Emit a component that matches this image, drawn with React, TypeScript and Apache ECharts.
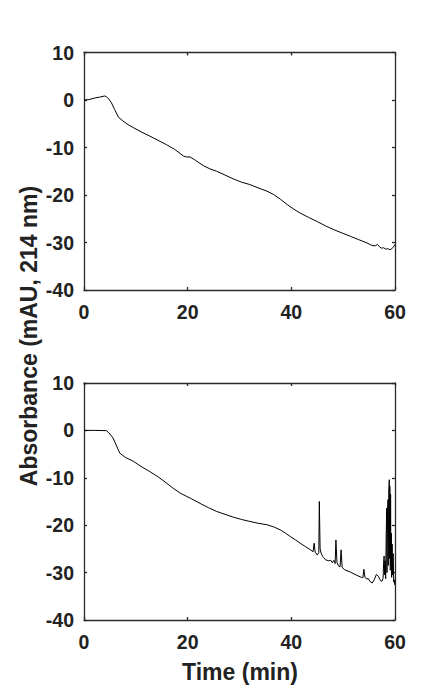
import React, { useEffect, useRef } from "react";
import * as echarts from "echarts";

const xTicks = [0, 20, 40, 60];
const yTicks = [-40, -30, -20, -10, 0, 10];

const topTrace: [number, number][] = [
  [0, 0], [1, 0.1], [2, 0.4], [3, 0.6], [4, 0.85], [4.3, 0.7], [4.8, 0.2], [5.3, -0.6],
  [5.9, -2], [6.7, -3.7], [7.5, -4.4], [8.5, -5.2], [9.5, -5.8], [11, -6.7], [12.7, -7.6],
  [14.3, -8.5], [15.9, -9.4], [17.5, -10.4], [19.2, -11.8], [19.8, -12], [20.5, -12],
  [21.5, -12.7], [23, -13.8], [24.3, -14.5], [25.6, -15], [27.2, -15.8], [28.8, -16.6],
  [30.4, -17.3], [32, -17.8], [33.6, -18.5], [35.3, -19.2], [36.6, -19.9], [37.9, -20.9],
  [39.2, -22], [40.5, -23], [41.7, -23.8], [43.3, -24.7], [45, -25.6], [46.6, -26.5],
  [48.2, -27.3], [49.8, -28], [51.4, -28.7], [53, -29.4], [54.6, -30.1], [55.5, -30.6],
  [56.2, -30.7], [56.6, -30.4], [57.0, -30.9], [57.4, -31.2], [57.8, -31.1], [58.2, -31.4],
  [58.6, -31.3], [59.0, -31.5], [59.3, -31.4], [59.6, -31.0], [59.8, -30.8], [60, -30.4],
];

const bottomTrace: [number, number][] = [
  [0, 0], [2, 0], [4.3, -0.05], [4.8, -0.5], [5.6, -1.6], [6.3, -3.3], [6.9, -4.8],
  [8, -5.7], [9.5, -6.5], [11, -7.6], [12.7, -8.7], [14.3, -9.8], [15.9, -11.1],
  [17.2, -12.2], [18.5, -13.2], [20.5, -14.3], [22.4, -15.4], [24, -16.3], [25.6, -17.1],
  [27.2, -17.7], [28.8, -18.3], [30.4, -18.8], [32, -19.2], [33.6, -19.6], [35.3, -19.9],
  [36.7, -20.4], [37.9, -21], [38.9, -21.7], [39.8, -22.4], [40.8, -23.1], [41.7, -23.8],
  [42.7, -24.5], [43.7, -25.2], [44.2, -25.6], [44.4, -23.8], [44.6, -25.7], [45.0, -26.3],
  [45.3, -25.8], [45.4, -15], [45.55, -25], [45.8, -26.1], [46.2, -26.8], [46.6, -27.3],
  [47.2, -27.5], [47.6, -27.4], [47.9, -27.9], [48.2, -27.4], [48.45, -28.1], [48.6, -23.1],
  [48.8, -27.8], [49.1, -28.6], [49.4, -28.8], [49.6, -25.2], [49.8, -28.9], [50.3, -29.4],
  [51.4, -29.9], [52.5, -30.5], [53.5, -31], [53.8, -31.1], [54.0, -29.3], [54.2, -31.0],
  [54.6, -31.4], [54.8, -31.2], [55.2, -31.9], [55.6, -32.2], [56.0, -31.5], [56.4, -30.4],
  [56.8, -30.8], [57.2, -31.7], [57.5, -31.8], [57.7, -31.2], [57.8, -28], [57.9, -26.5],
  [58.0, -30.5], [58.1, -27.5], [58.2, -31.3], [58.3, -22], [58.4, -16.4], [58.45, -30],
  [58.55, -17.5], [58.65, -14.6], [58.7, -28.5], [58.8, -12.8], [58.9, -10.4], [58.95, -27],
  [59.0, -11.8], [59.05, -20], [59.1, -29.5], [59.15, -13.5], [59.2, -27.8], [59.3, -21.7],
  [59.35, -31], [59.45, -24], [59.55, -30.5], [59.65, -26], [59.75, -32], [59.85, -31.5],
  [59.95, -32.6], [60, -32.6],
];

const xTitle = "Time (min)";
const yTitle = "Absorbance (mAU, 214 nm)";

const FONT = "'Liberation Sans', Arial, sans-serif";
const AXIS_COLOR = "#2a2a2a";
const LABEL_COLOR = "#222";

export default function App() {
  const ref = useRef<HTMLDivElement>(null);

  useEffect(() => {
    if (!ref.current) return;
    const chart = echarts.init(ref.current, undefined, { renderer: "svg" });

    const xMin = xTicks[0];
    const xMax = xTicks[xTicks.length - 1];
    const xInt = xTicks[1] - xTicks[0];
    const yMin = yTicks[0];
    const yMax = yTicks[yTicks.length - 1];
    const yInt = yTicks[1] - yTicks[0];

    const axisLine = { show: true, onZero: false, lineStyle: { color: AXIS_COLOR, width: 1.3 } };
    const tick = { show: true, inside: true, length: 3, lineStyle: { color: AXIS_COLOR, width: 1.3 } };
    const label = {
      show: true,
      color: LABEL_COLOR,
      fontFamily: FONT,
      fontWeight: "bold" as const,
      fontSize: 19.5,
    };

    const grids = [
      { left: 84, top: 52.5, width: 311, height: 237.5 },
      { left: 84, top: 383, width: 311, height: 237 },
    ];

    const xAxes: any[] = [];
    const yAxes: any[] = [];
    grids.forEach((_, gi) => {
      xAxes.push({
        type: "value", gridIndex: gi, position: "bottom", min: xMin, max: xMax, interval: xInt,
        axisLine, axisTick: tick, axisLabel: { ...label, margin: 12 }, splitLine: { show: false },
      });
      xAxes.push({
        type: "value", gridIndex: gi, position: "top", min: xMin, max: xMax, interval: xInt,
        axisLine, axisTick: tick, axisLabel: { show: false }, splitLine: { show: false },
      });
      yAxes.push({
        type: "value", gridIndex: gi, position: "left", min: yMin, max: yMax, interval: yInt,
        axisLine, axisTick: tick, axisLabel: { ...label, margin: 10 }, splitLine: { show: false },
      });
      yAxes.push({
        type: "value", gridIndex: gi, position: "right", min: yMin, max: yMax, interval: yInt,
        axisLine, axisTick: tick, axisLabel: { show: false }, splitLine: { show: false },
      });
    });

    chart.setOption({
      animation: false,
      backgroundColor: "#fff",
      grid: grids,
      xAxis: xAxes,
      yAxis: yAxes,
      series: [
        {
          type: "line", xAxisIndex: 0, yAxisIndex: 0, data: topTrace, showSymbol: false,
          lineStyle: { color: "#000", width: 1 }, silent: true,
        },
        {
          type: "line", xAxisIndex: 2, yAxisIndex: 2, data: bottomTrace, showSymbol: false,
          lineStyle: { color: "#000", width: 1 }, silent: true,
        },
      ],
      graphic: [
        {
          type: "text", x: 29, y: 336, rotation: Math.PI / 2,
          style: {
            text: yTitle, fill: LABEL_COLOR, fontFamily: FONT, fontWeight: "bold", fontSize: 23,
            textAlign: "center", textVerticalAlign: "middle",
          },
        },
        {
          type: "text", x: 240, y: 672,
          style: {
            text: xTitle, fill: LABEL_COLOR, fontFamily: FONT, fontWeight: "bold", fontSize: 23,
            textAlign: "center", textVerticalAlign: "middle",
          },
        },
      ],
    });

    return () => chart.dispose();
  }, []);

  return (
    <div
      ref={ref}
      style={{ position: "fixed", left: 0, top: 0, width: 436, height: 697, background: "#fff" }}
    />
  );
}
